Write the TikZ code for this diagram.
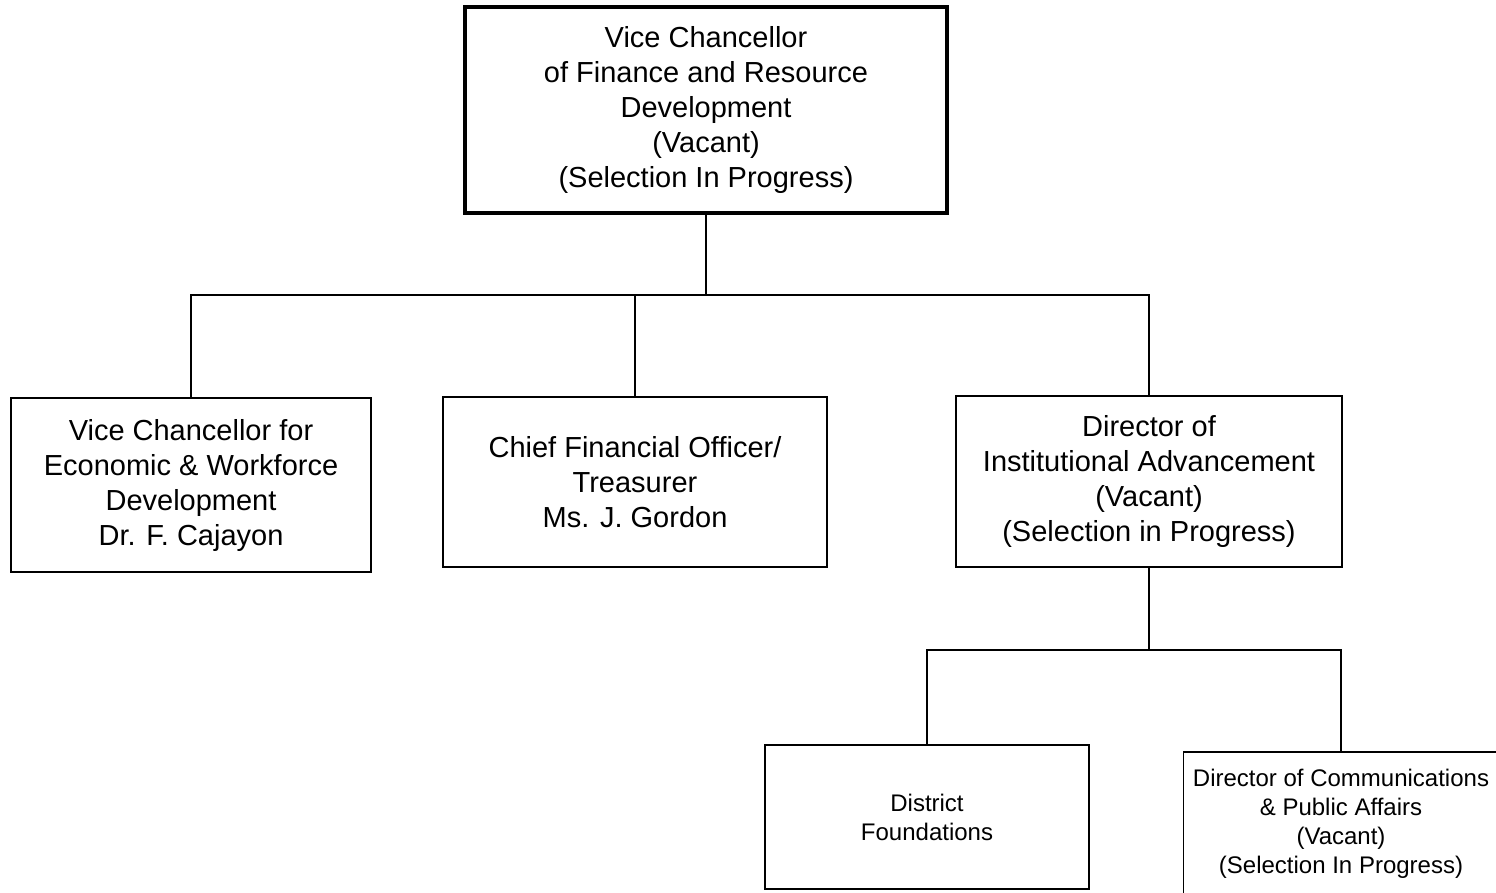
\documentclass[tikz,border=0pt]{standalone}
\usepackage{fontspec}
\setmainfont{Liberation Sans}
\begin{document}
\begin{tikzpicture}[x=1pt,y=-1pt,
  box/.style={draw, line width=1.6pt, rectangle, inner sep=0pt, align=center,
    font=\fontsize{29}{35}\selectfont},
  smallbox/.style={box, font=\fontsize{24}{29}\selectfont},
  topbox/.style={box, line width=4.5pt},
  link/.style={line width=1.6pt}]
\useasboundingbox (0,0) rectangle (1496,892);

% head of the division
\node[topbox, minimum width=482pt, minimum height=206pt] (vcf) at (706,110)
  {Vice Chancellor\\of Finance and Resource\\Development\\(Vacant)\\(Selection In Progress)};

% direct reports
\node[box, minimum width=360pt, minimum height=174pt] (vcew) at (191,485)
  {Vice Chancellor for\\Economic \& Workforce\\Development\\Dr. F. Cajayon};
\node[box, minimum width=384pt, minimum height=170pt] (cfo) at (635,482)
  {Chief Financial Officer/\\Treasurer\\Ms. J. Gordon};
\node[box, minimum width=386pt, minimum height=171pt] (dia) at (1149,481.5)
  {Director of\\Institutional Advancement\\(Vacant)\\(Selection in Progress)};

% institutional advancement units
\node[smallbox, minimum width=324pt, minimum height=144pt] (df) at (927,817)
  {District\\Foundations};
\node[smallbox, minimum width=315pt, minimum height=144pt] (dcpa) at (1341,824)
  {Director of Communications\\\& Public Affairs\\(Vacant)\\(Selection In Progress)};

% connectors
\coordinate (bus1) at (706,295);
\coordinate (bus2) at (1149,650);
\draw[link] (vcf.south) -- (bus1);
\draw[link] (vcew.north) -- (vcew.north |- bus1) -- (dia.north |- bus1) -- (dia.north);
\draw[link] (cfo.north) -- (cfo.north |- bus1);
\draw[link] (dia.south) -- (bus2);
\draw[link] (df.north) -- (df.north |- bus2) -- (dcpa.north |- bus2) -- (dcpa.north);
\end{tikzpicture}
\end{document}
